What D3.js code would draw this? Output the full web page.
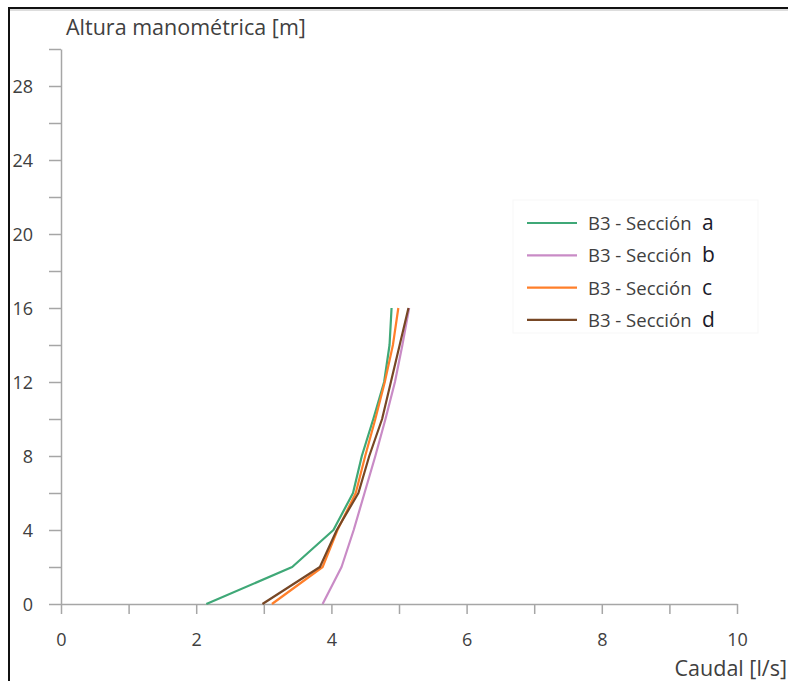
<!DOCTYPE html>
<html>
<head>
<meta charset="utf-8">
<script src="https://cdn.jsdelivr.net/npm/d3@7"></script>
<style>
  html, body { margin: 0; padding: 0; background: #fff; }
  svg { display: block; }
</style>
</head>
<body>
<svg id="chart" width="788" height="681"></svg>
<script>
// Pump curves: head (m) versus flow (l/s) for four sections of B3
const heads = [0, 2, 4, 6, 8, 10, 12, 14, 16];
const seccionA = [2.15, 3.42, 4.03, 4.32, 4.45, 4.62, 4.78, 4.86, 4.89];
const seccionB = [3.87, 4.15, 4.33, 4.49, 4.65, 4.80, 4.94, 5.05, 5.15];
const seccionC = [3.12, 3.87, 4.09, 4.36, 4.50, 4.65, 4.79, 4.91, 4.99];
const seccionD = [2.98, 3.83, 4.08, 4.40, 4.56, 4.75, 4.88, 5.01, 5.14];

const seriesNames = ["a", "b", "c", "d"];
const seriesColors = ["#3fa877", "#c98bc6", "#ff7f2a", "#774725"];
const seriesValues = [seccionA, seccionB, seccionC, seccionD];

const xTicks = [0, 1, 2, 3, 4, 5, 6, 7, 8, 9, 10];
const yTicks = [0, 2, 4, 6, 8, 10, 12, 14, 16, 18, 20, 22, 24, 26, 28, 30];

const svg = d3.select("#chart");

const x = d3.scaleLinear().domain([0, 10]).range([61, 737]);
const y = d3.scaleLinear().domain([0, 30]).range([604, 49]);

const textColor = "#404040";
const axisColor = "#a6a6a6";
const font = "'Open Sans', 'Noto Sans', sans-serif";

// outer frame (top and left edges)
svg.append("path")
  .attr("d", "M9,681 L9,8 L788,8")
  .attr("fill", "none")
  .attr("stroke", "#111")
  .attr("stroke-width", 2);
svg.append("line")
  .attr("x1", 10).attr("x2", 788).attr("y1", 10).attr("y2", 10)
  .attr("stroke", "#bbb").attr("stroke-width", 1);

// x axis
const xAxis = d3.axisBottom(x)
  .tickValues(xTicks)
  .tickSize(10)
  .tickSizeOuter(0)
  .tickFormat(d => d % 2 === 0 ? d : "");
const gx = svg.append("g").attr("transform", `translate(0,${y(0)})`).call(xAxis);
gx.select(".domain").attr("stroke", axisColor).attr("stroke-width", 1.5);
gx.selectAll(".tick line").attr("stroke", axisColor).attr("stroke-width", 1.5);
gx.selectAll(".tick text")
  .attr("fill", textColor)
  .attr("font-family", font)
  .attr("font-size", 18)
  .attr("dy", null)
  .attr("y", 42);

// y axis
const yAxis = d3.axisLeft(y)
  .tickValues(yTicks)
  .tickSize(12)
  .tickSizeOuter(0)
  .tickFormat(d => (d % 4 === 0 && d <= 28) ? d : "");
const gy = svg.append("g").attr("transform", `translate(${x(0)},0)`).call(yAxis);
gy.select(".domain").attr("stroke", axisColor).attr("stroke-width", 1.5);
gy.selectAll(".tick line").attr("stroke", axisColor).attr("stroke-width", 1.5);
gy.selectAll(".tick text")
  .attr("fill", textColor)
  .attr("font-family", font)
  .attr("font-size", 18)
  .attr("x", -28)
  .attr("dy", "0.36em");

// axis titles
svg.append("text")
  .attr("x", 66).attr("y", 35)
  .attr("fill", textColor)
  .attr("font-family", font)
  .attr("font-size", 21.5)
  .text("Altura manométrica [m]");
svg.append("text")
  .attr("x", 787).attr("y", 676)
  .attr("text-anchor", "end")
  .attr("fill", textColor)
  .attr("font-family", font)
  .attr("font-size", 21.5)
  .text("Caudal [l/s]");

// curves
const line = d3.line()
  .x(d => x(d[0]))
  .y(d => y(d[1]));

seriesValues.forEach((vals, i) => {
  const pts = vals.map((q, k) => [q, heads[k]]);
  svg.append("path")
    .datum(pts)
    .attr("d", line)
    .attr("fill", "none")
    .attr("stroke", seriesColors[i])
    .attr("stroke-width", 2.2)
    .attr("stroke-linejoin", "round");
});

// legend
const legend = svg.append("g");
legend.append("rect")
  .attr("x", 513).attr("y", 200)
  .attr("width", 245).attr("height", 133)
  .attr("fill", "none")
  .attr("stroke", "#f7f7f7");
seriesNames.forEach((name, i) => {
  const ly = 223 + i * 32.3;
  legend.append("line")
    .attr("x1", 527).attr("x2", 577)
    .attr("y1", ly).attr("y2", ly)
    .attr("stroke", seriesColors[i])
    .attr("stroke-width", 2.2);
  legend.append("text")
    .attr("x", 588).attr("y", ly + 7)
    .attr("fill", textColor)
    .attr("font-family", font)
    .attr("font-size", 18.5)
    .text("B3 - Sección");
  legend.append("text")
    .attr("x", 702).attr("y", ly + 7)
    .attr("fill", "#1a1a2a")
    .attr("font-family", font)
    .attr("font-size", 21)
    .text(name);
});
</script>
</body>
</html>
